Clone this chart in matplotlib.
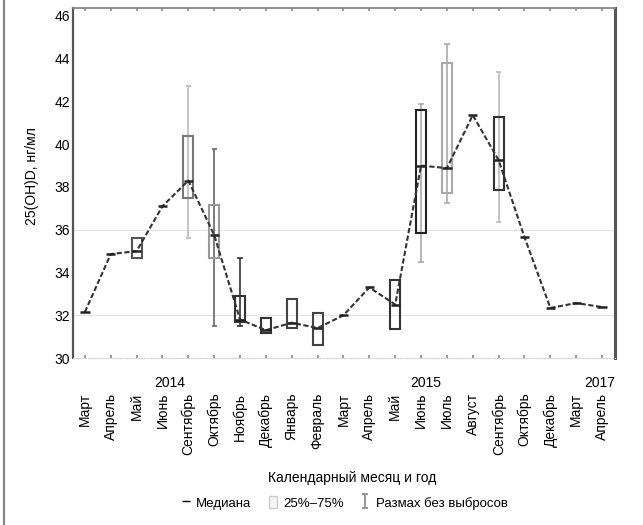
import numpy as np
import matplotlib
matplotlib.use("Agg")
import matplotlib.pyplot as plt
from matplotlib.lines import Line2D
from matplotlib.patches import Patch
from matplotlib.path import Path

plt.rcParams['font.family'] = ['Liberation Sans Narrow', 'Liberation Sans', 'DejaVu Sans']
plt.rcParams['font.size'] = 10

# month labels along the x axis
months = ['Март', 'Апрель', 'Май', 'Июнь', 'Сентябрь', 'Октябрь', 'Ноябрь',
          'Декабрь', 'Январь', 'Февраль', 'Март', 'Апрель', 'Май', 'Июнь',
          'Июль', 'Август', 'Сентябрь', 'Октябрь', 'Декабрь', 'Март', 'Апрель']
years = ['2014', '2015', '2017']
year_pos = [3.3, 13.2, 19.9]

nan = np.nan
median = [32.15, 34.86, 35.0, 37.1, 38.3, 35.75, 31.8, 31.3, 31.65, 31.4,
          32.0, 33.3, 32.5, 39.0, 38.88, 41.36, 39.25, 35.65, 32.34, 32.57, 32.38]
q1 = [nan, nan, 34.67, nan, 37.48, 34.67, 31.7, 31.17, 31.4, 30.6,
      nan, nan, 31.36, 35.84, 37.7, nan, 37.85, nan, nan, nan, nan]
q3 = [nan, nan, 35.6, nan, 40.37, 37.15, 32.9, 31.87, 32.76, 32.1,
      nan, nan, 33.64, 41.6, 43.8, nan, 41.26, nan, nan, nan, nan]
wlo = [nan, nan, nan, nan, 35.6, 31.5, 31.5, nan, nan, nan,
       nan, nan, nan, 34.5, 37.24, nan, 36.36, nan, nan, nan, nan]
whi = [nan, nan, nan, nan, 42.7, 39.77, 34.7, nan, nan, nan,
       nan, nan, nan, 41.87, 44.7, nan, 43.36, nan, nan, nan, nan]

# edge shades of boxes / whiskers (the scan shows them in different greys)
box_col = ['k', 'k', '#555', 'k', '#777', '#999', '#333', '#333', '#444', '#444',
           'k', 'k', '#333', '#222', '#aaa', 'k', '#333', 'k', 'k', 'k', 'k']
wh_col = ['k', 'k', 'k', 'k', '#bbb', '#666', '#333', 'k', 'k', 'k',
          'k', 'k', 'k', '#aaa', '#aaa', 'k', '#bbb', 'k', 'k', 'k', 'k']

x = np.arange(len(months))
q1 = np.array(q1)
q3 = np.array(q3)

fig = plt.figure(figsize=(6.43, 5.25), dpi=100)
ax = fig.add_axes([73 / 643, 1 - 358 / 525, 542 / 643, 350 / 525])

for yv in (32, 36):
    ax.axhline(yv, color='#e4e4e4', lw=0.8, zorder=0)

# whiskers
ax.vlines(x, wlo, whi, colors=wh_col, lw=1.2, zorder=2)
ax.hlines(wlo, x - 0.1, x + 0.1, colors=wh_col, lw=1.2, zorder=2)
ax.hlines(whi, x - 0.1, x + 0.1, colors=wh_col, lw=1.2, zorder=2)

# boxes 25%-75%
ax.bar(x, q3 - q1, bottom=q1, width=0.38, fill=False, edgecolor=box_col,
       linewidth=1.5, zorder=3)

# median line and median marks
ax.plot(x, median, color='#333', lw=1.5, ls=(0, (2.5, 1.2)), zorder=4)
ax.hlines(median, x - 0.18, x + 0.18, colors='#222', lw=1.8, zorder=5)

ax.set_xlim(-0.46, 20.5)
ax.set_ylim(30, 46.37)
ax.set_yticks(np.arange(30, 47, 2))
ax.set_xticks(x, months, rotation=90)
ax.set_xticks(year_pos, years, minor=True)
ax.tick_params(axis='x', which='major', direction='in', length=2, width=1.2,
               color='#888', top=True, pad=25)
ax.tick_params(axis='x', which='minor', length=0, pad=13)
ax.tick_params(axis='y', length=0, pad=2)

ax.spines['left'].set_color('#555')
ax.spines['left'].set_linewidth(1.6)
ax.spines['right'].set_color('#555')
ax.spines['right'].set_linewidth(2.2)
ax.spines['top'].set_color('#888')
ax.spines['top'].set_linewidth(1.3)
ax.spines['bottom'].set_color('#cfcfcf')
ax.spines['bottom'].set_linestyle(':')

ax.set_ylabel('25(OH)D, нг/мл')
ax.yaxis.set_label_coords(-0.063, 0.52)
ax.set_xlabel('Календарный месяц и год')
ax.xaxis.set_label_coords(0.515, -0.323)

# legend
ibeam = Path([(-0.5, 1), (0.5, 1), (0, 1), (0, -1), (-0.5, -1), (0.5, -1)],
             [Path.MOVETO, Path.LINETO, Path.MOVETO, Path.LINETO, Path.MOVETO, Path.LINETO])
handles = [
    Line2D([], [], color='k', lw=1, marker='_', ls='none', markersize=6),
    Patch(facecolor='#f4f4f4', edgecolor='#cccccc', lw=1),
    Line2D([], [], color='#999', marker=ibeam, ls='none', markersize=10, markeredgewidth=1.5),
]
fig.legend(handles, ['Медиана', '25%–75%', 'Размах без выбросов'],
           loc='center', bbox_to_anchor=(0.536, 0.042), ncol=3, frameon=False,
           fontsize=9.5, handlelength=0.6, handleheight=1.0, handletextpad=0.5,
           columnspacing=1.3)

# left border line of the scanned figure
fig.add_artist(Line2D([3.5 / 643, 3.5 / 643], [0, 1], color='#888', lw=1.6))

fig.savefig('out.png', dpi=100)
